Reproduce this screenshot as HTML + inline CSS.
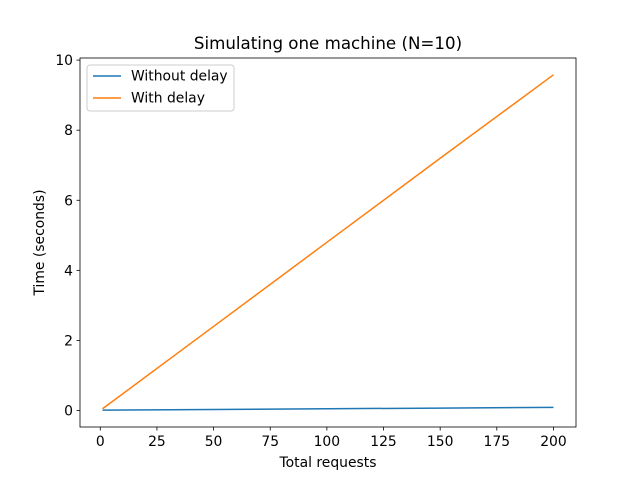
<!DOCTYPE html>
<html><head><meta charset="utf-8"><style>
body{margin:0;background:#fff;}
svg text{font-family:"DejaVu Sans","Liberation Sans",sans-serif;fill:#000;}
</style></head><body>
<svg id="chart" width="640" height="480" viewBox="0 0 640 480">
<rect width="640" height="480" fill="#fff"/>
<text x="328" y="49" font-size="16.67" text-anchor="middle">Simulating one machine (N=10)</text>
<g id="plot"></g>
<rect x="80" y="58" width="496" height="369" fill="none" stroke="#000" stroke-width="0.8"/>
<text x="328" y="467" font-size="13.9" text-anchor="middle">Total requests</text>
<text transform="translate(44,242.5) rotate(-90)" font-size="13.9" text-anchor="middle">Time (seconds)</text>
<g>
<rect x="87" y="65" width="147" height="46" rx="3" fill="#fff" fill-opacity="0.8" stroke="#ccc" stroke-width="1"/>
<line x1="93" y1="76" x2="121" y2="76" stroke="#1f77b4" stroke-width="1.5"/>
<text x="131" y="80.5" font-size="13.9">Without delay</text>
<line x1="93" y1="98" x2="121" y2="98" stroke="#ff7f0e" stroke-width="1.5"/>
<text x="131" y="102.5" font-size="13.9">With delay</text>
</g>
</svg>
<script>
const requests=[1,50,100,150,200];
const withoutDelay=[0.01,0.03,0.05,0.07,0.09];
const withDelay=[0.05,2.4,4.8,7.2,9.58];
const xTicks=[0,25,50,75,100,125,150,175,200];
const yTicks=[0,2,4,6,8,10];
const NS="http://www.w3.org/2000/svg";
const L=80,R=576,T=58,B=427;
const xmin=-8.95,xmax=209.95,ymin=-0.47,ymax=10.06;
function sx(v){return L+(v-xmin)/(xmax-xmin)*(R-L);}
function sy(v){return B-(v-ymin)/(ymax-ymin)*(B-T);}
const g=document.getElementById('plot');
function mk(t,a){const e=document.createElementNS(NS,t);for(const k in a)e.setAttribute(k,a[k]);g.appendChild(e);return e;}
xTicks.forEach(v=>{
 const l=mk('line',{x1:sx(v),x2:sx(v),y1:B,y2:B+3.5,stroke:'#000','stroke-width':0.8});
 
 
 const t=mk('text',{x:sx(v),y:B+19,'font-size':13.9,'text-anchor':'middle'});
 t.textContent=v;
 
 
});
yTicks.forEach(v=>{
 const l=mk('line',{x1:L-3.5,x2:L,y1:sy(v),y2:sy(v),stroke:'#000','stroke-width':0.8});
 
 
 const t=mk('text',{x:L-7,y:sy(v)+5,'font-size':13.9,'text-anchor':'end'});
 t.textContent=v;
 
 
});
function line(ys,color,name){
 const p=mk('polyline',{points:requests.map((x,i)=>sx(x)+','+sy(ys[i])).join(' '),fill:'none',stroke:color,'stroke-width':1.5});
 
 
}
line(withoutDelay,'#1f77b4','line-without-delay');
line(withDelay,'#ff7f0e','line-with-delay');
</script>
</body></html>
